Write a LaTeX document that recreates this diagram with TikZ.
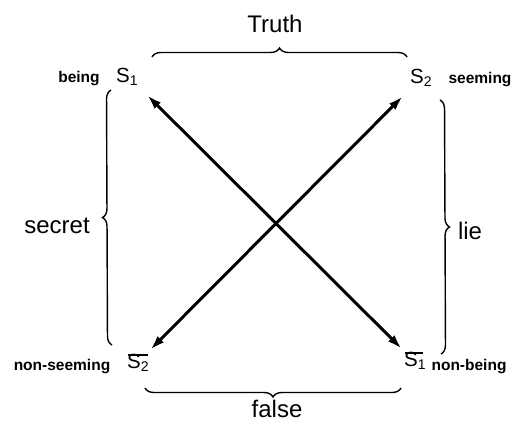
\documentclass[tikz,border=0pt]{standalone}
\usepackage{fontspec}
\setmainfont{Liberation Sans}
\usetikzlibrary{arrows.meta,decorations.pathreplacing}
\begin{document}
\begin{tikzpicture}[x=1pt,y=-1pt,
  big/.style={font=\fontsize{24}{24}\selectfont, inner sep=0pt},
  small/.style={font=\bfseries\fontsize{15.5}{15.5}\selectfont, inner sep=0pt},
  sym/.style={font=\fontsize{20.5}{20.5}\selectfont, inner sep=0pt},
  bracestyle/.style={decorate, decoration={brace, amplitude=9pt}, line width=1.4pt},
  dbl/.style={line width=3pt, {Latex[length=15pt,width=9pt]}-{Latex[length=15pt,width=9pt]}}]
\useasboundingbox (0,0) rectangle (526,423);

% labels
\node[big, anchor=base] (truth) at (275,32) {Truth};
\node[big, anchor=base] (false) at (277,417) {false};
\node[big, anchor=base] (secret) at (57,233) {secret};
\node[big, anchor=base] (lie) at (470,239) {lie};

\node[small, anchor=base] (being) at (79,82) {being};
\node[small, anchor=base] (seeming) at (480,83) {seeming};
\node[small, anchor=base] (nonseeming) at (62,370) {non-seeming};
\node[small, anchor=base] (nonbeing) at (469,370) {non-being};

% symbols
\node[sym, anchor=base west] (s1) at (116,82) {S\raisebox{-0.3ex}{\fontsize{14}{14}\selectfont 1}};
\node[sym, anchor=base west] (s2) at (410,83) {S\raisebox{-0.3ex}{\fontsize{14}{14}\selectfont 2}};
\node[sym, anchor=base west] (ns2) at (127,368) {S\raisebox{-0.3ex}{\fontsize{14}{14}\selectfont 2}};
\node[sym, anchor=base west] (ns1) at (404,366) {S\raisebox{-0.3ex}{\fontsize{14}{14}\selectfont 1}};
\draw[line width=1.3pt] ([xshift=1pt,yshift=-1.5pt]ns2.north west) -- ([xshift=-1pt,yshift=-1.5pt]ns2.north east);
\draw[line width=1.3pt] ([xshift=1pt,yshift=-1.5pt]ns1.north west) -- ([xshift=-3pt,yshift=-1.5pt]ns1.north east);

% arrow ends
\coordinate (a1) at (147,95);
\coordinate (b1) at (402,349);
\coordinate (a2) at (403,96);
\coordinate (b2) at (150,350);
\draw[dbl] (a1) -- (b1);
\draw[dbl] (a2) -- (b2);

% braces
\coordinate (tl) at (152,57);
\coordinate (tr) at (407,57);
\draw[bracestyle] (tl) -- (tr);
\coordinate (bl) at (145,388);
\coordinate (br) at (401,388);
\draw[bracestyle] (br) -- (bl);
\coordinate (lt) at (111,90);
\coordinate (lb) at (112,345);
\draw[bracestyle] (lb) -- (lt);
\coordinate (rt) at (440,100);
\coordinate (rb) at (441,354);
\draw[bracestyle] (rt) -- (rb);
\end{tikzpicture}
\end{document}
